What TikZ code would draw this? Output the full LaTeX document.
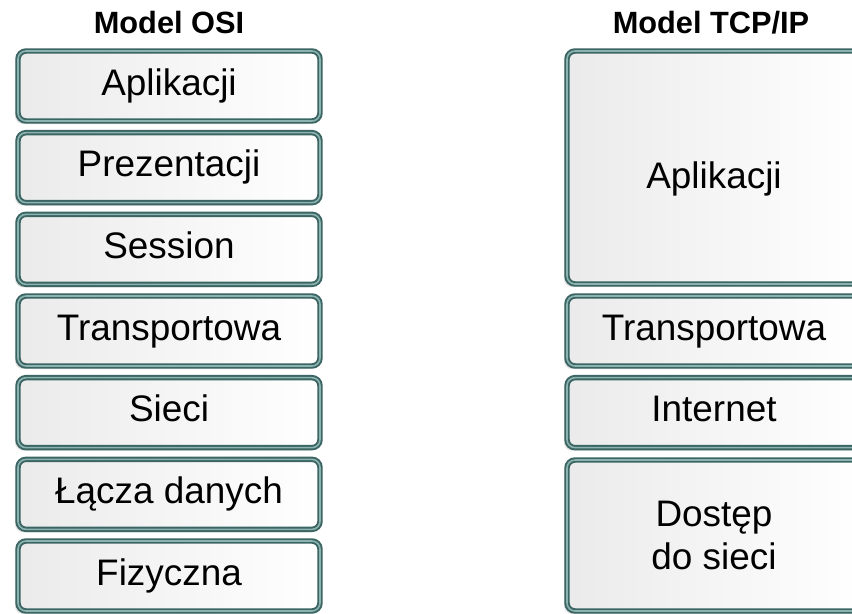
\documentclass[tikz,border=0pt]{standalone}
\usepackage{fontspec}
\setmainfont{Liberation Sans}
\usetikzlibrary{shadows}

\definecolor{layerteal}{HTML}{3A6563}
\definecolor{layerlight}{HTML}{8DB3B0}

\begin{document}
\begin{tikzpicture}[
    layer/.style={draw=layerteal, double=layerlight, double distance=0.9pt, line width=1.1pt,
        rounded corners=0.16cm, left color=black!8, right color=white,
        minimum width=6.04cm, minimum height=1.4cm, inner sep=0pt,
        font=\fontsize{21}{25}\selectfont, text height=15pt, text depth=4.4pt,
        drop shadow={shadow xshift=-0.06cm, shadow yshift=-0.06cm, fill=black!25, opacity=0.45}},
    title/.style={font=\bfseries\fontsize{17.5}{20}\selectfont, anchor=base}
]
    \useasboundingbox (0, 0) rectangle (17.04, -12.26);
    \clip (0, 0) rectangle (17.04, -12.26);

    \node[title] (osi) at (3.38, -0.66) {Model OSI};
    \node[title] (tcpip) at (14.22, -0.66) {Model TCP/IP};

    % OSI stack
    \node[layer] (app) at (3.38, -1.72) {Aplikacji};
    \node[layer] (pres) at (3.38, -3.353) {Prezentacji};
    \node[layer] (sess) at (3.38, -4.987) {Session};
    \node[layer] (trans) at (3.38, -6.62) {Transportowa};
    \node[layer] (net) at (3.38, -8.253) {Sieci};
    \node[layer] (link) at (3.38, -9.887) {Łącza danych};
    \node[layer] (phys) at (3.38, -11.52) {Fizyczna};

    % TCP/IP stack
    \node[layer, minimum width=5.88cm, minimum height=4.66cm, text height=28pt] (tapp) at (14.28, -3.35) {Aplikacji};
    \node[layer, minimum width=5.88cm] (ttrans) at (14.28, -6.62) {Transportowa};
    \node[layer, minimum width=5.88cm] (tnet) at (14.28, -8.253) {Internet};
    \node[layer, minimum width=5.88cm, minimum height=3.02cm, align=center, text height={}, text depth={}] (taccess) at (14.28, -10.71) {Dostęp\\do sieci};

\end{tikzpicture}
\end{document}
